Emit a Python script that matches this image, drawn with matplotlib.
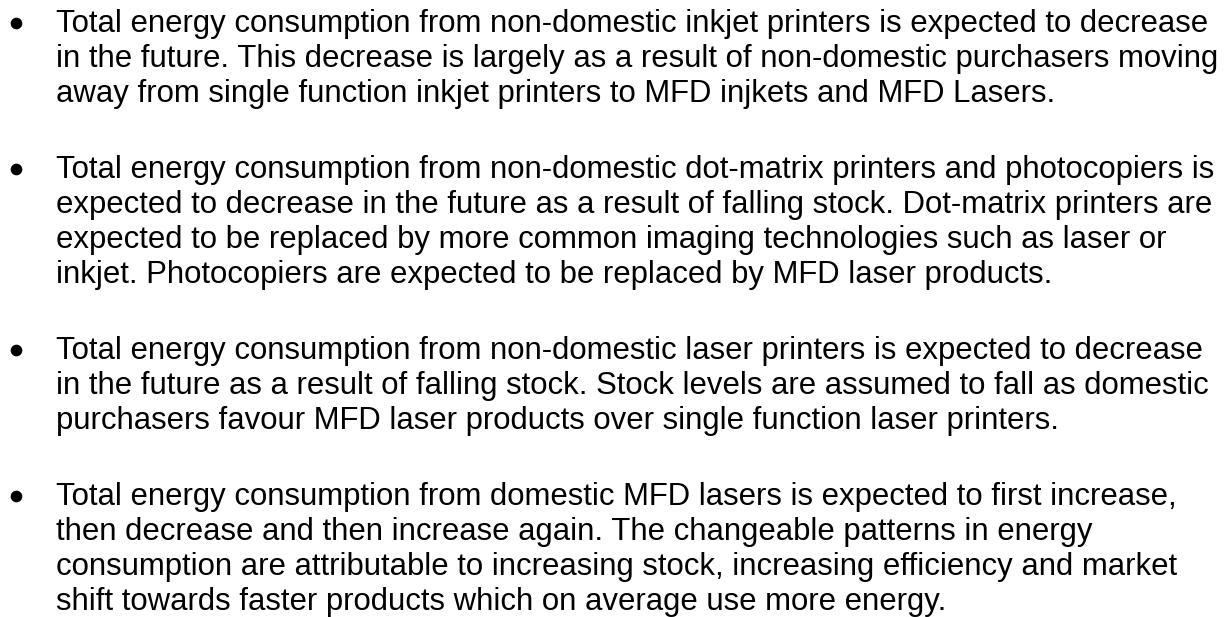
import matplotlib.pyplot as plt

para1 = ["Total energy consumption from non-domestic inkjet printers is expected to decrease",
         "in the future. This decrease is largely as a result of non-domestic purchasers moving",
         "away from single function inkjet printers to MFD injkets and MFD Lasers."]
para2 = ["Total energy consumption from non-domestic dot-matrix printers and photocopiers is",
         "expected to decrease in the future as a result of falling stock. Dot-matrix printers are",
         "expected to be replaced by more common imaging technologies such as laser or",
         "inkjet. Photocopiers are expected to be replaced by MFD laser products."]
para3 = ["Total energy consumption from non-domestic laser printers is expected to decrease",
         "in the future as a result of falling stock. Stock levels are assumed to fall as domestic",
         "purchasers favour MFD laser products over single function laser printers."]
para4 = ["Total energy consumption from domestic MFD lasers is expected to first increase,",
         "then decrease and then increase again. The changeable patterns in energy",
         "consumption are attributable to increasing stock, increasing efficiency and market",
         "shift towards faster products which on average use more energy."]
paragraphs = [para1, para2, para3, para4]

W, H = 1229, 617
fig = plt.figure(figsize=(W / 100, H / 100), dpi=100)
ax = fig.add_axes([0, 0, 1, 1])
ax.set_xlim(0, W)
ax.set_ylim(H, 0)
ax.axis('off')

font = 'Liberation Sans'
size = 22.4
line_step = 35
para_step = 76
text_x = 56
bullet_x = 16

y = 32
for para in paragraphs:
    ax.plot([bullet_x], [y - 9], 'o', color='black', markersize=8.4, markeredgewidth=0)
    for i, line in enumerate(para):
        ax.text(text_x, y, line, fontsize=size, family=font,
                ha='left', va='baseline', color='black')
        if i < len(para) - 1:
            y += line_step
    y += para_step

fig.savefig('out.png', dpi=100, facecolor='white')
